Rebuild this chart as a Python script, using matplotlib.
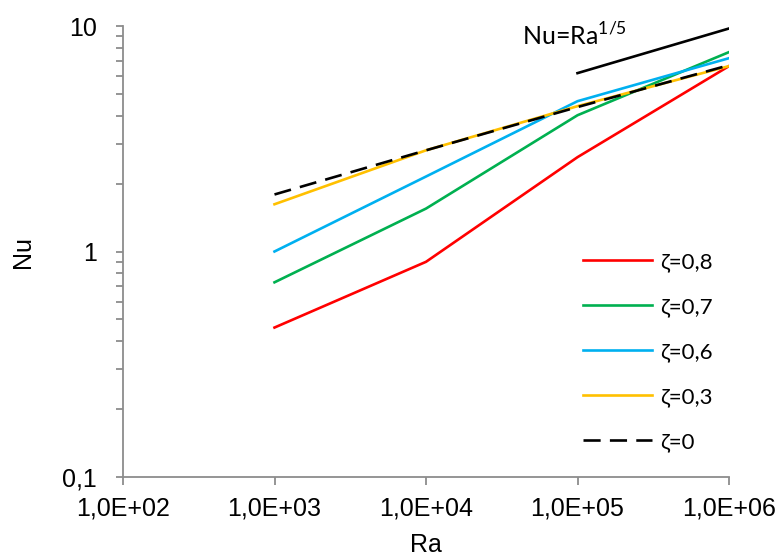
import matplotlib
matplotlib.use("Agg")
import matplotlib.pyplot as plt
from matplotlib.ticker import FixedLocator, LogLocator, NullFormatter

ra = [1e3, 1e4, 1e5, 1e6]
nu_08 = [0.46, 0.90, 2.62, 6.64]
nu_07 = [0.73, 1.55, 4.02, 7.66]
nu_06 = [1.00, 2.15, 4.64, 7.20]
nu_03 = [1.62, 2.81, 4.41, 6.64]
nu_00 = [1.79, 2.81, 4.37, 6.70]
ra_ref = [1e5, 1e6]
nu_ref = [6.18, 9.75]

xticks = [1e2, 1e3, 1e4, 1e5, 1e6]
xticklabels = ["1,0E+02", "1,0E+03", "1,0E+04", "1,0E+05", "1,0E+06"]
yticks = [0.1, 1, 10]
yticklabels = ["0,1", "1", "10"]

tickfont = "Liberation Sans"
legfont = "Lato"
W, H = 782, 556
L, R, B, T = 123, 729, 477, 26

fig = plt.figure(figsize=(W / 100, H / 100), dpi=100)
ax = fig.add_axes([L / W, 1 - B / H, (R - L) / W, (B - T) / H])

lw = 1.9
ax.plot(ra, nu_08, color="#FF0000", lw=lw, label="ζ=0,8")
ax.plot(ra, nu_07, color="#00B050", lw=lw, label="ζ=0,7")
ax.plot(ra, nu_06, color="#00B0F0", lw=lw, label="ζ=0,6")
ax.plot(ra, nu_03, color="#FFC000", lw=lw, label="ζ=0,3")
ax.plot(ra, nu_00, color="black", lw=lw, dashes=(6.5, 3.5), label="ζ=0")
ax.plot(ra_ref, nu_ref, color="black", lw=lw)

ax.set_xscale("log")
ax.set_yscale("log")
ax.set_xlim(1e2, 1e6)
ax.set_ylim(0.1, 10)

ax.xaxis.set_major_locator(FixedLocator(xticks))
ax.set_xticklabels(xticklabels, fontfamily=tickfont, fontsize=18)
ax.xaxis.set_minor_locator(FixedLocator([]))
ax.yaxis.set_major_locator(FixedLocator(yticks))
ax.set_yticklabels(yticklabels, fontfamily=tickfont, fontsize=18)
ax.yaxis.set_minor_locator(LogLocator(base=10, subs=range(2, 10)))
ax.yaxis.set_minor_formatter(NullFormatter())

for s in ["top", "right"]:
    ax.spines[s].set_visible(False)
for s in ["left", "bottom"]:
    ax.spines[s].set_color("#8c8c8c")
    ax.spines[s].set_linewidth(1.3)
ax.tick_params(axis="both", which="both", color="#8c8c8c", width=1.3, direction="out")
ax.tick_params(axis="x", which="major", length=6, pad=8)
ax.tick_params(axis="y", which="major", length=5, pad=14)
ax.tick_params(axis="y", which="minor", length=5)

ax.set_xlabel("Ra", fontfamily=tickfont, fontsize=18)
ax.set_ylabel("Nu", fontfamily=tickfont, fontsize=18)
ax.xaxis.set_label_coords(0.5, -(545 - B) / (B - T))
ax.xaxis.label.set_va("center")
ax.yaxis.set_label_coords(-(L - 23) / (R - L), 0.5)
ax.yaxis.label.set_va("center")

ax.text(4.3e4, 9.1, r"Nu=Ra$^{\mathregular{1/5}}$", fontfamily=legfont, fontsize=18,
        ha="left", va="center")

leg = ax.legend(loc="center left", bbox_to_anchor=((583 - L) / (R - L), (B - 352) / (B - T)),
                frameon=False, prop={"family": legfont, "size": 16}, handlelength=3.1,
                labelspacing=1.13, handletextpad=0.35, borderpad=0, borderaxespad=0)

fig.savefig("out.png", dpi=100)
